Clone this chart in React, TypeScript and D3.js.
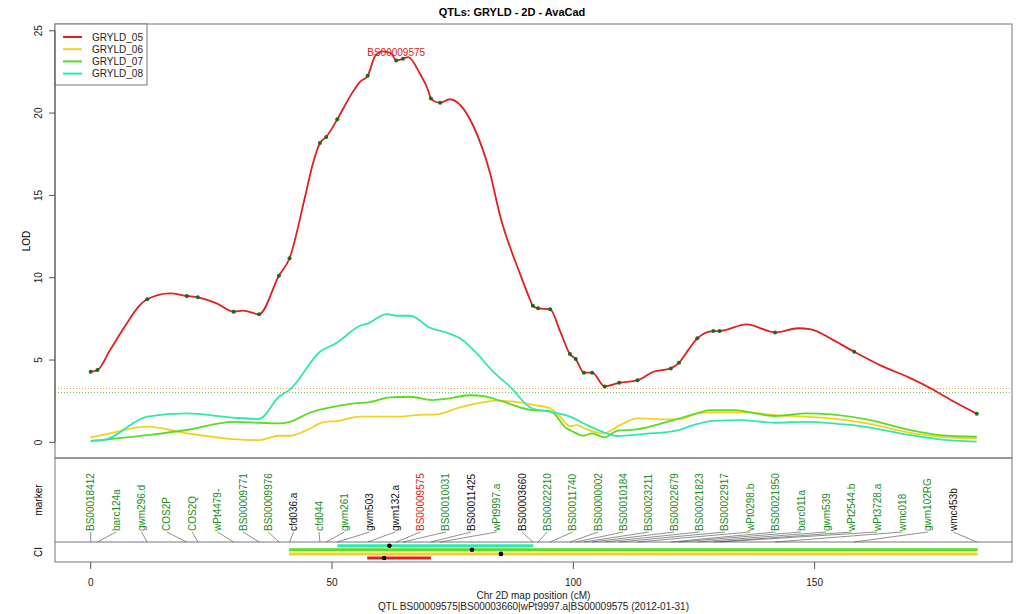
import React from "react";
import * as d3 from "d3";

// marker map (cM) and label colour class: g = green, k = black, r = red (QTL peak)
const MARKERS = [
  "BS00018412", "barc124a", "gwm296.d", "COS2P", "COS2Q", "wPt4479-", "BS00009771",
  "BS00009976", "cfd036.a", "cfd044", "gwm261", "gwm503", "gwm132.a", "BS00009575",
  "BS00010031", "BS00011425", "wPt9997.a", "BS00003660", "BS00022210", "BS00011740",
  "BS00000002", "BS00010184", "BS00023211", "BS00022679", "BS00021823", "BS00022917",
  "wPt0298.b", "BS00021950", "barc011a", "gwm539", "wPt2544.b", "wPt3728.a", "wmc018",
  "gwm102RG", "wmc453b",
];
const MARKER_POS = [
  0, 1.4, 11.7, 19.9, 22.2, 29.6, 34.9, 39.0, 41.2, 47.5, 48.8, 51.1, 57.4, 63.3, 64.7,
  70.5, 72.4, 91.6, 92.7, 95.2, 99.3, 100.5, 102.2, 103.9, 106.5, 109.5, 113.3, 120.2,
  121.9, 125.7, 129.0, 130.3, 141.8, 158.2, 183.6,
];
const MARKER_CLASS = [
  "g", "g", "g", "g", "g", "g", "g", "g", "k", "g", "g", "k", "k", "r", "g", "k", "g", "k",
  "g", "g", "g", "g", "g", "g", "g", "g", "g", "g", "g", "g", "g", "g", "g", "g", "k",
];
// LOD at marker positions for GRYLD_05
const MARKER_LOD05 = [
  4.29, 4.39, 8.69, 8.89, 8.81, 7.94, 7.78, 10.12, 11.18, 18.18, 18.55, 19.62, 22.27, 23.2,
  23.3, 20.88, 20.63, 8.3, 8.14, 8.08, 5.36, 5.06, 4.23, 4.23, 3.4, 3.62, 3.77, 4.49, 4.84,
  6.32, 6.76, 6.76, 6.68, 5.5, 1.74,
];

// profile points between markers [cM, LOD]
const GRYLD_05_EXTRA: [number, number][] = [
  [4.0, 5.6], [7.5, 7.23], [9.9, 8.24], [16.4, 9.05], [26.1, 8.44], [31.6, 8.0],
  [44.4, 14.9], [46.1, 17.0], [53.7, 21.0], [55.8, 21.9], [59.0, 23.5], [60.5, 23.75],
  [62.2, 23.65], [65.8, 23.4], [68.2, 22.4], [69.9, 21.4], [74.4, 20.84], [79.3, 19.2],
  [82.7, 16.4], [84.8, 13.8], [89.0, 10.2], [91.0, 8.7], [97.3, 6.72], [116.6, 4.29],
  [123.8, 5.6], [135.9, 7.17], [146.6, 6.93], [149.0, 6.88], [153.9, 6.21], [164.2, 4.6],
  [169.5, 3.95], [174.6, 3.2], [179.0, 2.45],
];
const GRYLD_06: [number, number][] = [
  [0, 0.3], [4, 0.55], [11.7, 0.95], [19.9, 0.55], [29.5, 0.2], [34.9, 0.14], [39, 0.4],
  [41.3, 0.4], [44.8, 0.75], [48.5, 1.25], [51, 1.29], [55.8, 1.56], [63.4, 1.56],
  [67.5, 1.66], [71.7, 1.7], [76.5, 2.12], [80.7, 2.4], [84.1, 2.53], [87.6, 2.47],
  [91.7, 2.27], [95.2, 2.07], [97.2, 1.56], [99.3, 0.99], [100.7, 1.05], [102.8, 0.79],
  [106.2, 0.55], [109.7, 1.05], [113.3, 1.46], [119.4, 1.4], [122.2, 1.4], [125.6, 1.76],
  [129, 1.82], [135.9, 1.82], [141.8, 1.66], [148.4, 1.56], [155.3, 1.4], [160.8, 1.15],
  [169.8, 0.58], [176, 0.34], [183.6, 0.24],
];
const GRYLD_07: [number, number][] = [
  [0, 0.08], [11.7, 0.44], [19.9, 0.75], [29.5, 1.25], [34.9, 1.19], [39, 1.15],
  [41.3, 1.25], [45.4, 1.8], [50.3, 2.16], [55.8, 2.4], [57.5, 2.43], [62, 2.73],
  [66.2, 2.77], [70.7, 2.57], [73.1, 2.63], [78.6, 2.86], [81.4, 2.81], [84.8, 2.53],
  [91.4, 1.96], [95.2, 1.9], [98.6, 0.85], [100, 0.64], [102.1, 0.4], [103.9, 0.55],
  [106.5, 0.3], [109, 0.7], [113.1, 0.79], [120.7, 1.35], [125.6, 1.76], [128.3, 1.96],
  [133.2, 1.96], [141.8, 1.6], [148.4, 1.76], [153.9, 1.68], [160.8, 1.4], [169.8, 0.75],
  [176, 0.44], [183.6, 0.34],
];
const GRYLD_08: [number, number][] = [
  [0, 0.1], [2.6, 0.14], [11.7, 1.56], [19.9, 1.76], [29.5, 1.5], [34.9, 1.42], [39, 2.77],
  [41.3, 3.22], [47.5, 5.5], [51, 6.05], [55.8, 7.08], [57.5, 7.23], [61.3, 7.79],
  [63.4, 7.69], [66.2, 7.69], [70.3, 6.96], [73.8, 6.66], [76.5, 6.32], [80, 5.41],
  [83.4, 4.29], [86.9, 3.38], [91.4, 2.07], [95.2, 1.86], [99.3, 1.56], [103.2, 1.0],
  [106.9, 0.55], [109.3, 0.38], [113.8, 0.49], [121.8, 0.75], [124.9, 1.05], [129, 1.31],
  [134.5, 1.35], [141.8, 1.19], [148.4, 1.25], [155.3, 1.11], [158, 1.05], [167.7, 0.55],
  [176, 0.18], [183.6, 0.04],
];

const SERIES = ["GRYLD_05", "GRYLD_06", "GRYLD_07", "GRYLD_08"];
const COLORS = ["#e02020", "#f2d21e", "#58dc24", "#2ee8b0"];

// confidence intervals [from, to, peak] per series (cM)
const CI_05 = [57.3, 70.5, 60.8];
const CI_06 = [41.1, 183.8, 85.0];
const CI_07 = [41.1, 183.8, 79.0];
const CI_08 = [51.1, 91.7, 61.9];

const THRESHOLDS = [3.28, 3.08];
const THRESHOLD_COLORS = ["#f2a055", "#6cc86c"];

const X_TICKS = [0, 50, 100, 150];
const Y_TICKS = [0, 5, 10, 15, 20, 25];

const FONT = "Liberation Sans, Arial, Helvetica, sans-serif";
const LEFT = 55;
const RIGHT = 1012;
const TOP = 24;
const MAIN_BOTTOM = 458;
const CI_TOP = 542;
const BOTTOM = 562;
const LABEL_SPAN = 178.7;

const labelColor = (c: string) => (c === "r" ? "#e02020" : c === "k" ? "#111" : "#228b22");

export default function App() {
  const x = d3.scaleLinear().domain([-7.4, 190.9]).range([LEFT, RIGHT]);
  const y = d3.scaleLinear().domain([-0.95, 25.41]).range([MAIN_BOTTOM, TOP]);
  const labelX = d3.scalePoint<string>().domain(MARKERS).range([x(0), x(LABEL_SPAN)]);

  const red: [number, number][] = [
    ...MARKER_POS.map((p, i) => [p, MARKER_LOD05[i]] as [number, number]),
    ...GRYLD_05_EXTRA,
  ].sort((a, b) => a[0] - b[0]);

  const line = d3
    .line<[number, number]>()
    .x((d) => x(d[0]))
    .y((d) => y(d[1]))
    .curve(d3.curveMonotoneX);

  const profiles = [red, GRYLD_06, GRYLD_07, GRYLD_08];
  const cis = [CI_08, CI_07, CI_06, CI_05];
  const ciColors = [COLORS[3], COLORS[2], COLORS[1], COLORS[0]];
  const ciY = d3.scalePoint<number>().domain([0, 1, 2, 3]).range([545.7, 558]);

  const peakIdx = MARKER_CLASS.indexOf("r");

  return (
    <svg
      width={1023}
      height={614}
      style={{ position: "absolute", left: 0, top: 0, background: "#fff" }}
      fontFamily={FONT}
    >
      <text x={512} y={16} textAnchor="middle" fontSize={11} fontWeight="bold">
        QTLs: GRYLD - 2D - AvaCad
      </text>

      {/* thresholds */}
      {THRESHOLDS.map((t, i) => (
        <line
          key={i}
          x1={LEFT}
          x2={RIGHT}
          y1={Math.round(y(t)) + 0.5}
          y2={Math.round(y(t)) + 0.5}
          stroke={THRESHOLD_COLORS[i]}
          strokeWidth={1}
          strokeDasharray="1,2"
        />
      ))}

      {/* profiles */}
      {profiles.map((p, i) => (
        <path key={i} d={line(p) ?? ""} fill="none" stroke={COLORS[i]} strokeWidth={1.8} />
      ))}
      {MARKER_POS.map((p, i) => (
        <circle key={i} cx={x(p)} cy={y(MARKER_LOD05[i])} r={2} fill="#1a6a1a" />
      ))}
      <text
        x={x(MARKER_POS[peakIdx])}
        y={y(MARKER_LOD05[peakIdx]) - 4}
        textAnchor="middle"
        fontSize={10}
        fill="#e02020"
      >
        {MARKERS[peakIdx]}
      </text>

      {/* frames */}
      <rect x={LEFT} y={TOP} width={RIGHT - LEFT} height={MAIN_BOTTOM - TOP} fill="none" stroke="#777" />
      <rect x={LEFT} y={MAIN_BOTTOM} width={RIGHT - LEFT} height={BOTTOM - MAIN_BOTTOM} fill="none" stroke="#777" />
      <line x1={LEFT} x2={RIGHT} y1={CI_TOP} y2={CI_TOP} stroke="#777" />

      {/* legend */}
      <rect x={LEFT} y={TOP} width={92} height={61} fill="#fff" stroke="#777" />
      {SERIES.map((s, i) => (
        <g key={s} transform={`translate(0,${37 + i * 12.2})`}>
          <line x1={63} x2={82} y1={0} y2={0} stroke={COLORS[i]} strokeWidth={2} />
          <text x={92} y={3.6} fontSize={10} fill="#222">
            {s}
          </text>
        </g>
      ))}

      {/* y axis */}
      {Y_TICKS.map((t) => (
        <g key={t}>
          <line x1={LEFT - 6} x2={LEFT} y1={y(t)} y2={y(t)} stroke="#555" />
          <text
            transform={`translate(42,${y(t)}) rotate(-90)`}
            textAnchor="middle"
            fontSize={10}
            fill="#222"
          >
            {t}
          </text>
        </g>
      ))}
      <line x1={LEFT} x2={LEFT} y1={y(0)} y2={y(25)} stroke="#555" />
      <text transform={`translate(30,${(TOP + MAIN_BOTTOM) / 2}) rotate(-90)`} textAnchor="middle" fontSize={10}>
        LOD
      </text>
      <text transform={`translate(42,500) rotate(-90)`} textAnchor="middle" fontSize={10}>
        marker
      </text>
      <text transform={`translate(42,552) rotate(-90)`} textAnchor="middle" fontSize={10}>
        CI
      </text>

      {/* marker labels */}
      {MARKERS.map((m, i) => {
        const lx = labelX(m) ?? 0;
        return (
          <g key={m}>
            <line x1={lx} y1={532} x2={x(MARKER_POS[i])} y2={CI_TOP} stroke="#444" strokeWidth={0.6} />
            <text
              transform={`translate(${lx + 3.6},531) rotate(-90)`}
              fontSize={10}
              fill={labelColor(MARKER_CLASS[i])}
            >
              {m}
            </text>
          </g>
        );
      })}

      {/* confidence intervals */}
      {cis.map((c, i) => (
        <g key={i}>
          <line
            x1={x(c[0])}
            x2={x(c[1])}
            y1={ciY(i)}
            y2={ciY(i)}
            stroke={ciColors[i]}
            strokeWidth={3}
          />
          <circle cx={x(c[2])} cy={ciY(i)} r={2.3} fill="#000" />
        </g>
      ))}

      {/* x axis */}
      {X_TICKS.map((t) => (
        <g key={t}>
          <line x1={x(t)} x2={x(t)} y1={BOTTOM} y2={BOTTOM + 7} stroke="#555" />
          <text x={x(t)} y={586} textAnchor="middle" fontSize={10} fill="#222">
            {t}
          </text>
        </g>
      ))}
      <text x={(LEFT + RIGHT) / 2} y={598.5} textAnchor="middle" fontSize={10} fill="#222">
        Chr 2D map position (cM)
      </text>
      <text x={(LEFT + RIGHT) / 2} y={610} textAnchor="middle" fontSize={10} fill="#222">
        QTL BS00009575|BS00003660|wPt9997.a|BS00009575 (2012-01-31)
      </text>
    </svg>
  );
}
